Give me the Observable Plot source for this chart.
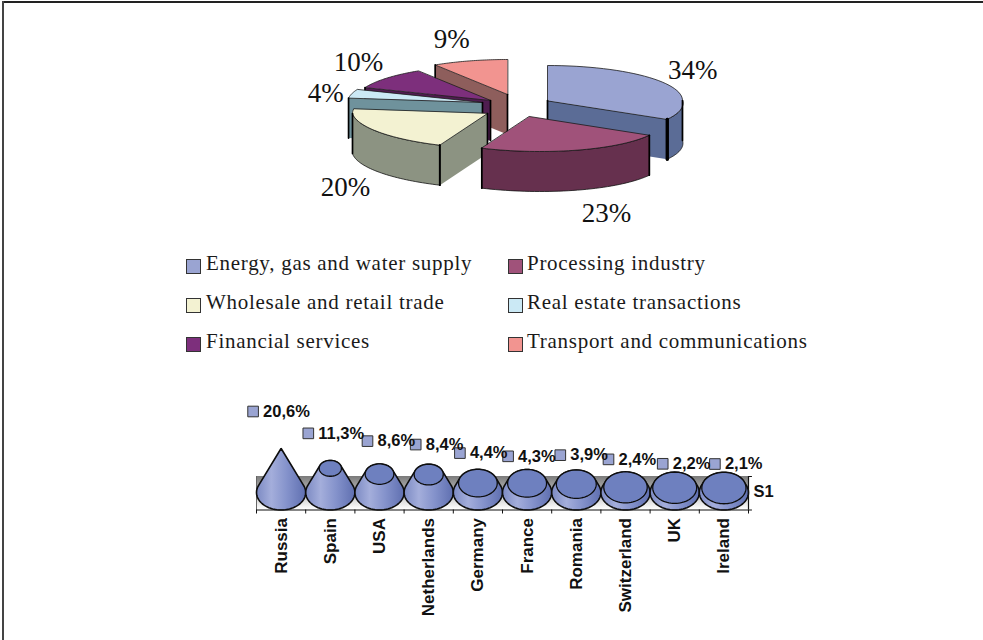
<!DOCTYPE html>
<html><head><meta charset="utf-8">
<script src="https://cdn.jsdelivr.net/npm/d3@7"></script>
<script src="https://cdn.jsdelivr.net/npm/@observablehq/plot@0.6"></script>
<style>
html,body{margin:0;padding:0;background:#fff;width:983px;height:640px;overflow:hidden}
#frameTop{position:absolute;left:2px;top:1px;width:981px;height:2px;background:#222}
#frameLeft{position:absolute;left:2px;top:1px;width:2px;height:639px;background:#444}
#pie,#cones{position:absolute;left:0}
#pie{top:0}#cones{top:395px}
#legend{position:absolute;left:0;top:0;font-family:"Liberation Serif",serif;font-size:21px;letter-spacing:.72px;color:#1a1a1a}
.lg{position:absolute;white-space:nowrap;line-height:24px}
.sw{position:absolute;width:13px;height:13px;border:1px solid #333}
</style></head><body>
<div id="frameTop"></div><div id="frameLeft"></div>
<div id="pie"></div><div id="legend"></div><div id="cones"></div>
<script>
// ---- data ----
const sectors = ["Energy, gas and water supply","Processing industry","Wholesale and retail trade","Real estate transactions","Financial services","Transport and communications"];
const shares = [34,23,20,4,10,9];
const topColors = ["#9aa4d2","#a0527a","#f3f2d2","#cbe9f5","#7d2f7c","#f29490"];
const sideColors = ["#5b6c96","#66304e","#8c9382","#6f929c","#4f1d50","#8e5e5c"];
const countries = ["Russia","Spain","USA","Netherlands","Germany","France","Romania","Switzerland","UK","Ireland"];
const investment = [20.6,11.3,8.6,8.4,4.4,4.3,3.9,2.4,2.2,2.1];
const seriesName = "S1";

// ---- pie layout (pixels -> scale domain) ----
const W = 983, PH = 240, cx = 509, cy = 104, rx = 135, ry = 35, depthPx = 40, skew = .08;
const shiftX = [38,20,-22,-27,-19,-2], shiftY = [-4,12,9,-2,-4,-10];
const labelOffX = [27,29,-29,-26,-28,-18], labelOffY = [-13,63,57,0,-16,-22];
const depth = depthPx / ry;
const rad = d => d * Math.PI / 180;
const total = d3.sum(shares);
let acc = 0;
const slices = shares.map((v, i) => {
  const a0 = acc * 360 / total; acc += v; const a1 = acc * 360 / total;
  return {i, v, a0, a1, dx: shiftX[i] / rx, dy: -shiftY[i] / ry};
});
const pt = (s, a, r, z = 0) => {
  const c = r * Math.cos(rad(a));
  return [s.dx + r * Math.sin(rad(a)) - skew * Math.min(0, c), s.dy + c - z];
};
const arc = (s, a0, a1, z = 0) => d3.range(0, 41).map(k => pt(s, a0 + (a1 - a0) * k / 40, 1, z));
const poly = (pts, opt) => Plot.line(pts, {x: d => d[0], y: d => d[1], curve: "linear-closed", ...opt});
const seg = (a, b, w = 1.7) => Plot.line([a, b], {x: d => d[0], y: d => d[1], stroke: "#000", strokeWidth: w});

function sliceMarks(s) {
  const top = topColors[s.i], side = sideColors[s.i], m = [];
  const S = Math.sin;
  const wall = a => [pt(s, a, 0), pt(s, a, 1), pt(s, a, 1, depth), pt(s, a, 0, depth)];
  const startVis = S(rad(s.a0)) < -1e-6, endVis = S(rad(s.a1)) > 1e-6;
  const lo = Math.max(s.a0, 90), hi = Math.min(s.a1, 270);
  const edges = [];
  if (hi > lo) {
    m.push(poly([...arc(s, lo, hi), ...arc(s, lo, hi, depth).reverse()], {fill: side, stroke: "#111", strokeWidth: .8}));
    edges.push(lo, hi);
  }
  if (startVis) { m.push(poly(wall(s.a0), {fill: side})); edges.push(s.a0); }
  if (endVis) { m.push(poly(wall(s.a1), {fill: side})); edges.push(s.a1); }
  m.push(poly([pt(s, 0, 0), ...arc(s, s.a0, s.a1)], {fill: top, stroke: "#1a1a1a", strokeWidth: .8}));
  edges.forEach(a => m.push(seg(pt(s, a, 1), pt(s, a, 1, depth), endVis && a === s.a1 ? 3 : 1.7)));
  if (startVis || endVis) m.push(seg(pt(s, 0, 0), pt(s, 0, 0, depth)));
  return m;
}
const paintOrder = [5,4,3,0,2,1];
const pieLabels = slices.map(s => {
  const mid = (s.a0 + s.a1) / 2, p = pt(s, mid, 1);
  return {x: p[0] + labelOffX[s.i] / rx, y: p[1] - labelOffY[s.i] / ry, t: s.v + "%"};
});
const pie = Plot.plot({
  width: W, height: PH, margin: 0,
  x: {axis: null, domain: [-cx / rx, (W - cx) / rx], range: [0, W]},
  y: {axis: null, domain: [cy / ry, (cy - PH) / ry], range: [0, PH]},
  marks: [
    ...paintOrder.flatMap(i => sliceMarks(slices[i])),
    Plot.text(pieLabels, {x: "x", y: "y", text: "t", fontSize: 27, fontFamily: "Liberation Serif", fill: "#111", textAnchor: "middle"})
  ]
});
document.getElementById("pie").append(pie);

// ---- legend ----
const legendRows = [269,308,347], legendCols = [186,508];
const lg = document.getElementById("legend");
sectors.forEach((t, i) => {
  const col = i % 2, row = Math.floor(i / 2), x = legendCols[col], y = legendRows[row];
  const sw = document.createElement("div"); sw.className = "sw";
  sw.style.cssText = `left:${x}px;top:${y - 10}px;background:${topColors[i]}`;
  const tx = document.createElement("div"); tx.className = "lg"; tx.textContent = t;
  tx.style.cssText = `left:${x + 20 - col}px;top:${y - 18}px`;
  lg.append(sw, tx);
});

// ---- cones ----
const CH = 245, x0 = 256, bw = 49.2, y0 = 97, pxPerUnit = 2.136;
const baseRx = .5, baseRy = 17.5 / pxPerUnit, axisV = -baseRy, wallTop = 16 / pxPerUnit;
const vmax = d3.max(investment);
const ell = (cxv, cyv, a, b) => d3.range(0, 72).map(k => [cxv + a * Math.cos(k * Math.PI / 36), cyv + b * Math.sin(k * Math.PI / 36)]);
const labDx = [-28,-22,-12,-13,-18,-19,-16,-17,-12,-9], labDy = [-37,-35,-33,-30,-30,-27,-29,-28,-24,-24];
const coneMarks = investment.flatMap((v, i) => {
  const f = 1 - v / vmax, a = baseRx * f, b = baseRy * f;
  const hull = d3.polygonHull([...ell(i, 0, baseRx, baseRy), ...ell(i, v, Math.max(a, 1e-3), Math.max(b, 1e-3))]);
  const out = [poly(hull, {fill: "url(#coneBody)", stroke: "#0d0d0d", strokeWidth: 1.6})];
  if (f > 0) out.push(poly(ell(i, v, a, b), {fill: "#6e80bf", stroke: "#0d0d0d", strokeWidth: 1.3}));
  return out;
});
const tags = investment.map((v, i) => ({
  x: i + labDx[i] / bw, y: v - labDy[i] / pxPerUnit, t: String(v).replace(".", ",") + "%"
}));
const defs = () => {
  const d = d3.create("svg:defs");
  const g = d.append("linearGradient").attr("id", "coneBody");
  [[0,"#7c8ac3"],[.3,"#a4aedb"],[.62,"#8492cb"],[1,"#5f6fb0"]].forEach(([o, c]) => g.append("stop").attr("offset", o).attr("stop-color", c));
  const w = d.append("linearGradient").attr("id", "wall").attr("x2", 0).attr("y2", 1);
  [[0,"#7a7a7a"],[.55,"#c4c4c4"],[1,"#ffffff"]].forEach(([o, c]) => w.append("stop").attr("offset", o).attr("stop-color", c));
  return d.node();
};
const font = {fontFamily: "Liberation Sans", fontWeight: "bold", fontSize: 16.5, fill: "#111"};
const cones = Plot.plot({
  width: W, height: CH, margin: 0,
  x: {axis: null, domain: [-x0 / bw - .5, (W - x0) / bw - .5], range: [0, W]},
  y: {axis: null, domain: [y0 / pxPerUnit, (y0 - CH) / pxPerUnit], range: [0, CH]},
  marks: [
    defs,
    Plot.rect([0], {x1: -.5, x2: 9.5, y1: axisV, y2: wallTop, fill: "url(#wall)"}),
    Plot.ruleX([-.5], {y1: axisV, y2: wallTop, stroke: "#666"}),
    ...coneMarks,
    Plot.ruleY([axisV], {x1: -.5, x2: 9.5, stroke: "#111", strokeWidth: 1.2}),
    Plot.ruleX(d3.range(11).map(k => k - .5), {y1: axisV, y2: axisV - 4 / pxPerUnit, stroke: "#111"}),
    Plot.ruleX([9.5], {y1: axisV, y2: wallTop, stroke: "#111", strokeWidth: 1.2}),
    Plot.ruleY([axisV, wallTop], {x1: 9.5, x2: 9.58, stroke: "#111"}),
    Plot.text(countries, {x: (d, i) => i, y: axisV, dy: 8, text: d => d, rotate: -90, textAnchor: "end", ...font, fontSize: 17}),
    Plot.text([seriesName], {x: 9.5 + 15 / bw, y: .5, text: d => d, ...font}),
    Plot.dot(tags, {x: "x", y: "y", symbol: "square", r: 6, fill: "#9aa4d2", stroke: "#333", strokeWidth: 1}),
    Plot.text(tags, {x: "x", y: "y", dx: 10, text: "t", textAnchor: "start", ...font})
  ]
});
document.getElementById("cones").append(cones);
</script></body></html>
